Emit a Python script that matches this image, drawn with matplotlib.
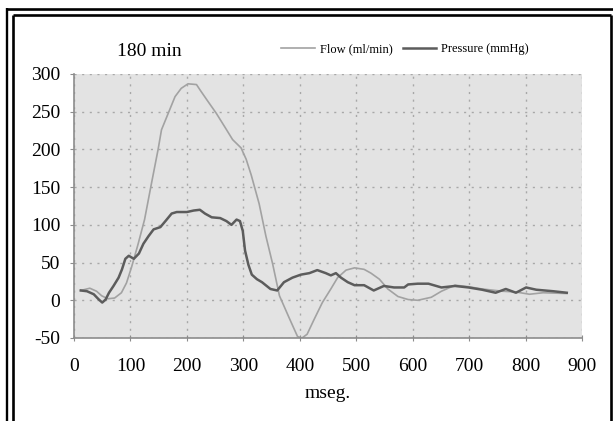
import numpy as np
import matplotlib
matplotlib.use('Agg')
import matplotlib.pyplot as plt
from matplotlib.lines import Line2D

plt.rcParams['font.family'] = ['Liberation Serif', 'DejaVu Serif']
plt.rcParams['axes.unicode_minus'] = False

# datos (ms, valor)
flow_t = [12, 28, 40, 49, 60, 72, 84, 93, 102, 113, 125, 137, 149, 155, 167, 179,
          190, 202, 217, 225, 237, 252, 267, 281, 296, 305, 314, 328, 340, 352,
          364, 381, 396, 404, 413, 425, 440, 455, 467, 482, 497, 514, 526, 541,
          556, 574, 592, 609, 633, 651, 675, 699, 723, 759, 783, 807, 831, 873]
flow_v = [13, 16, 12, 6, 2, 3, 10, 23, 44, 73, 107, 154, 200, 226, 248, 270,
          281, 287, 286, 277, 264, 248, 230, 213, 202, 187, 166, 128, 85, 48,
          6, -23, -48, -50, -45, -26, -3, 15, 30, 40, 43, 41, 36, 28,
          15, 5, 1, 0, 4, 12, 20, 18, 15, 12, 11, 8, 10, 9]

pres_t = [12, 23, 35, 44, 50, 56, 62, 70, 79, 85, 91, 97, 106, 115, 123, 132,
          141, 153, 162, 173, 182, 200, 212, 223, 232, 244, 259, 270, 279, 288,
          294, 299, 303, 309, 315, 324, 333, 348, 360, 372, 387, 402, 417, 431,
          446, 455, 464, 473, 485, 497, 514, 531, 549, 567, 585, 592, 609, 628,
          651, 675, 699, 723, 747, 765, 783, 801, 819, 849, 873]
pres_v = [13, 12, 8, 1, -3, 1, 10, 19, 30, 41, 55, 59, 55, 62, 75, 85,
          94, 97, 105, 115, 117, 117, 119, 120, 115, 110, 109, 105, 100, 107,
          105, 92, 66, 47, 34, 28, 24, 15, 13, 24, 30, 34, 36, 40,
          36, 33, 36, 30, 24, 20, 20, 13, 19, 17, 17, 21, 22, 22,
          17, 19, 17, 14, 10, 15, 10, 17, 14, 12, 10]

xticks = [0, 100, 200, 300, 400, 500, 600, 700, 800, 900]
yticks = [-50, 0, 50, 100, 150, 200, 250, 300]

fig = plt.figure(figsize=(6.13, 4.21), dpi=100)
ax = fig.add_axes([74/613, 1-338/421, (582-74)/613, (338-74)/421])
ax.set_facecolor('#e3e3e3')

ax.plot(flow_t, flow_v, color='#a2a2a2', lw=1.2, label='Flow (ml/min)')
ax.plot(pres_t, pres_v, color='#5c5c5c', lw=1.8, label='Pressure (mmHg)')

ax.set_xlim(0, 900)
ax.set_ylim(-50, 300)
ax.set_xticks(xticks)
ax.set_yticks(yticks)
ax.grid(True, color='#a8a8a8', lw=1.0, linestyle=(0, (1.5, 4)))
ax.set_axisbelow(True)
for s in ['top', 'right']:
    ax.spines[s].set_visible(False)
for s in ['left', 'bottom']:
    ax.spines[s].set_color('#8c8c8c')
    ax.spines[s].set_linewidth(1.2)
ax.tick_params(axis='x', direction='inout', length=5, color='#8c8c8c',
               labelsize=14, pad=12)
ax.tick_params(axis='y', direction='out', length=3, color='#8c8c8c',
               labelsize=14, pad=7)

fig.text(117/613, 1-51/421, '180 min', fontsize=14, ha='left', va='center')
fig.text(328/613, 1-393/421, 'mseg.', fontsize=14, ha='center', va='center')

fig.legend(loc='center left', bbox_to_anchor=(281/613, 1-49/421), ncol=2,
           frameon=False, fontsize=9, handlelength=2.7, handletextpad=0.4,
           columnspacing=0.8, borderpad=0, borderaxespad=0)

# marco doble
def fline(xs, ys, lw):
    fig.add_artist(Line2D([x/613 for x in xs], [1-y/421 for y in ys],
                          transform=fig.transFigure, color='black', lw=lw,
                          solid_capstyle='butt'))

fline([6, 613], [9.2, 9.2], 1.9)
fline([7.2, 7.2], [8, 421], 1.7)
fline([12.5, 610.5], [15.3, 15.3], 1.9)
fline([13.4, 13.4], [14.5, 421], 1.9)
fline([610.5, 610.5], [14.5, 421], 1.9)

fig.savefig('out.png', dpi=100)
